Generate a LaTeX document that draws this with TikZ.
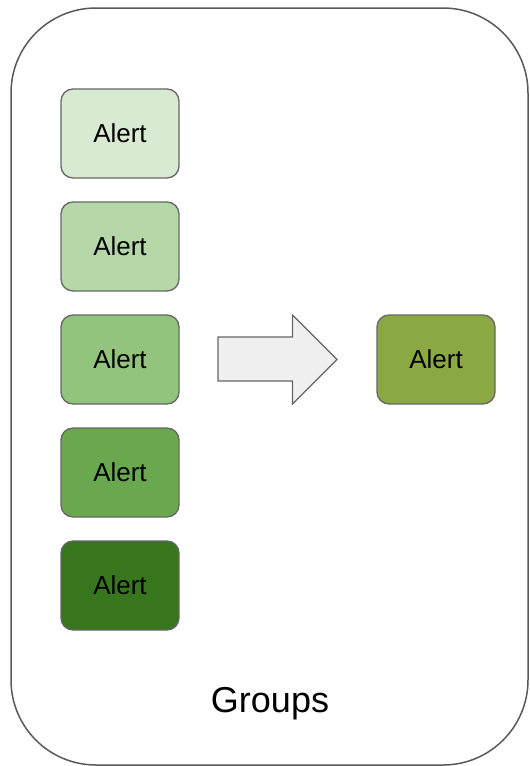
\documentclass[tikz,border=0pt]{standalone}
\usepackage{fontspec}
\setmainfont{Liberation Sans}
\begin{document}
\begin{tikzpicture}[x=1pt,y=-1pt,
  alertbox/.style={draw=black!60, line width=1.3pt, rounded corners=12pt,
    minimum width=118pt, minimum height=89pt, inner sep=0pt,
    font=\fontsize{26}{30}\selectfont, text=black},
  outline/.style={draw=black!65, line width=1.5pt},
  bigarrow/.style={draw=black!60, line width=1.1pt, fill=black!6, line join=miter}
]
\useasboundingbox (0,0) rectangle (530,766);
\definecolor{gA}{HTML}{D9EAD3}
\definecolor{gB}{HTML}{B6D7A8}
\definecolor{gC}{HTML}{93C47D}
\definecolor{gD}{HTML}{6AA84F}
\definecolor{gE}{HTML}{38761D}
\definecolor{gR}{HTML}{8AA943}
\coordinate (frame) at (269.5,386.5);
\draw[outline] (96,8) -- (443,8) arc[start angle=90, end angle=0, radius=85pt]
  -- (528,680) arc[start angle=0, end angle=-90, radius=85pt]
  -- (96,765) arc[start angle=-90, end angle=-180, radius=85pt]
  -- (11,93) arc[start angle=180, end angle=90, radius=85pt] -- cycle;
\node[alertbox, fill=gA] (a1) at (120,133.5) {Alert};
\node[alertbox, fill=gB] (a2) at (120,246.5) {Alert};
\node[alertbox, fill=gC] (a3) at (120,359.5) {Alert};
\node[alertbox, fill=gD] (a4) at (120,472.5) {Alert};
\node[alertbox, fill=gE] (a5) at (120,585.5) {Alert};
\node[alertbox, fill=gR] (r) at (436,359.5) {Alert};
\draw[bigarrow] (218,337) -- (292.5,337) -- (292.5,315) -- (337,359.5) -- (292.5,404) -- (292.5,381) -- (218,381) -- cycle;
\node[font=\fontsize{36}{40}\selectfont] (g) at (270,704) {Groups};
\end{tikzpicture}
\end{document}
